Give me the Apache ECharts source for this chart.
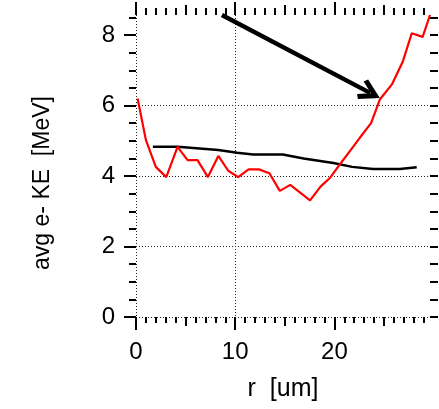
<!DOCTYPE html>
<html>
<head>
<meta charset="utf-8">
<script src="https://cdn.jsdelivr.net/npm/echarts@6/dist/echarts.min.js"></script>
<style>
  html, body { margin: 0; padding: 0; background: #fff; }
  #main { width: 439px; height: 409px; }
</style>
</head>
<body>
<div id="main"></div>
<script>
// red curve: [r, KE]
var redPts = [
  [0.16, 6.2], [1.0, 5.02], [2.0, 4.26], [3.05, 3.97], [4.19, 4.83],
  [5.2, 4.45], [6.2, 4.45], [7.25, 3.97], [8.3, 4.57], [9.3, 4.15],
  [10.3, 3.97], [11.35, 4.19], [12.4, 4.19], [13.45, 4.08], [14.5, 3.58],
  [15.55, 3.75], [16.55, 3.53], [17.55, 3.31], [18.6, 3.7], [19.6, 3.96],
  [20.6, 4.35], [21.6, 4.72], [22.6, 5.1], [23.7, 5.5], [24.6, 6.18],
  [25.8, 6.6], [26.9, 7.25], [27.8, 8.05], [28.9, 7.95], [29.64, 8.57]
];
// black curve: [r, KE]
var blackPts = [
  [1.7, 4.83], [4.2, 4.83], [8.3, 4.74], [10.2, 4.66], [11.8, 4.61],
  [14.8, 4.61], [16.9, 4.5], [19.9, 4.37], [21.8, 4.26], [23.9, 4.2],
  [26.6, 4.2], [28.3, 4.25]
];
var arrowFrom = [8.66, 8.57];
var arrowTo = [23.6, 6.36];

var xMajor = [0, 10, 20];
var xMid = [5, 15, 25];
var yMajor = [0, 2, 4, 6, 8];
var xMin = 0, xMax = 29.64;
var yMin = 0, yMax = 8.57;

var xMinor = [];
for (var i = 1; i < 30; i++) {
  if (i % 5 != 0) xMinor.push(i);
}
var yMinor = [], yAll = [];
for (var v = 0; v <= 8.5; v += 0.5) {
  yAll.push(v);
  if (v % 2 != 0) yMinor.push(v);
}

var font = 'Liberation Sans';

function xAx(pos, ticks, len, extra) {
  var a = {
    type: 'value',
    position: pos,
    min: xMin,
    max: xMax,
    axisLine: { show: false, onZero: false },
    axisTick: { show: true, length: len, customValues: ticks, lineStyle: { color: '#000', width: 2 } },
    axisLabel: { show: false },
    splitLine: { show: false }
  };
  return Object.assign(a, extra || {});
}
function yAx(pos, ticks, len, extra) {
  var a = {
    type: 'value',
    position: pos,
    min: yMin,
    max: yMax,
    axisLine: { show: false, onZero: false },
    axisTick: { show: true, length: len, customValues: ticks, lineStyle: { color: '#000', width: 2 } },
    axisLabel: { show: false },
    splitLine: { show: false }
  };
  return Object.assign(a, extra || {});
}

var dotted = { show: true, showMinLine: true, showMaxLine: false, lineStyle: { color: '#222', width: 1, type: [1, 2] } };

var option = {
  animation: false,
  grid: { left: 136, right: 9, top: 15, bottom: 92 },
  xAxis: [
    xAx('bottom', xMajor, 13, {
      interval: 10,
      name: 'r  [um]',
      nameLocation: 'middle',
      nameGap: 60,
      nameTextStyle: { fontFamily: font, fontSize: 25, color: '#000' },
      axisLabel: { show: true, customValues: xMajor, margin: 23, fontFamily: font, fontSize: 24, color: '#000' },
      splitLine: dotted
    }),
    xAx('bottom', xMid, 9),
    xAx('bottom', xMinor, 6),
    xAx('top', xMajor, 13),
    xAx('top', xMid, 10),
    xAx('top', xMinor, 7)
  ],
  yAxis: [
    yAx('left', yMajor, 12, {
      interval: 2,
      name: 'avg e- KE  [MeV]',
      nameLocation: 'middle',
      nameGap: 82,
      nameTextStyle: { fontFamily: font, fontSize: 23, color: '#000', padding: [0, 34, 0, 0] },
      axisLabel: { show: true, customValues: yMajor, margin: 21, fontFamily: font, fontSize: 24, color: '#000' },
      splitLine: dotted
    }),
    yAx('left', yMinor, 7),
    yAx('right', yAll, 8)
  ],
  series: [
    {
      type: 'line',
      data: blackPts,
      showSymbol: false,
      lineStyle: { color: '#000', width: 2.5 },
      markLine: {
        silent: true,
        symbol: ['none', 'path://M11,0 L22,19 L18,22 L11,10 L4,22 L0,19 Z'],
        symbolSize: [22, 22],
        label: { show: false },
        lineStyle: { color: '#000', width: 4.5, type: 'solid' },
        data: [[{ coord: arrowFrom }, { coord: arrowTo }]]
      }
    },
    {
      type: 'line',
      data: redPts,
      showSymbol: false,
      lineStyle: { color: '#ff0000', width: 2.2 }
    }
  ]
};

var chart = echarts.init(document.getElementById('main'));
chart.setOption(option);
</script>
</body>
</html>
